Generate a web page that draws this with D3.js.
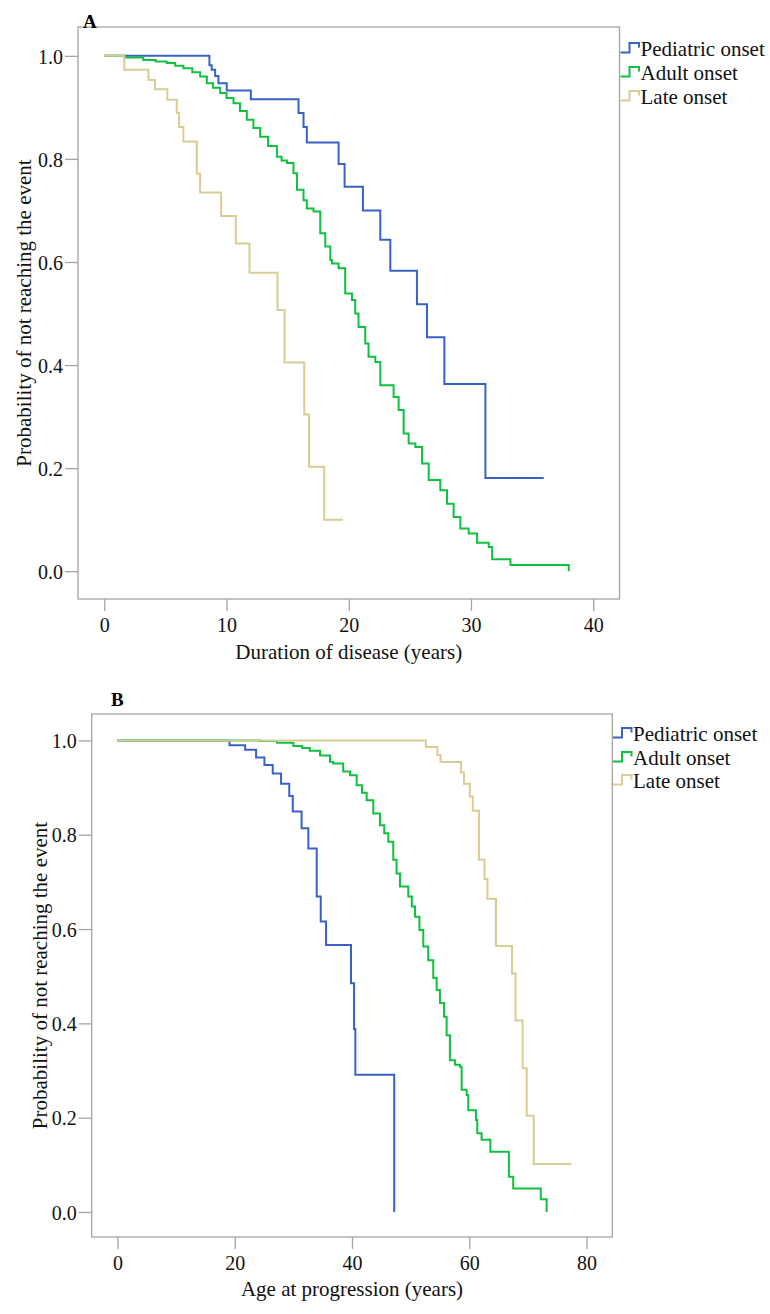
<!DOCTYPE html>
<html><head><meta charset="utf-8">
<script src="https://cdn.jsdelivr.net/npm/d3@7"></script>
<style>body{margin:0;background:#fff}</style>
</head><body>
<svg id="c" width="770" height="1314"></svg>
<script>
// ---------- data ----------
const seriesNames = ["Pediatric onset", "Adult onset", "Late onset"];
const yTicks = [0, 0.2, 0.4, 0.6, 0.8, 1.0];
const xTicksA = [0, 10, 20, 30, 40];
const xTicksB = [0, 20, 40, 60, 80];
const titleXA = "Duration of disease (years)";
const titleXB = "Age at progression (years)";
const titleY = "Probability of not reaching the event";

// Panel A: duration of disease
const aPedT = [0, 8.60, 8.79, 9.07, 9.34, 10.02, 11.99, 15.89, 16.30, 16.57, 19.17, 19.66, 21.16, 22.58, 23.40, 25.58, 26.40, 27.82, 31.18, 35.95];
const aPedS = [1, 0.982, 0.973, 0.961, 0.947, 0.933, 0.916, 0.889, 0.862, 0.832, 0.790, 0.746, 0.700, 0.643, 0.583, 0.518, 0.454, 0.363, 0.181, 0.181];
const aAduT = [0, 1.64, 3.19, 4.2, 5.11, 5.8, 6.47, 7.2, 7.84, 8.39, 8.9, 9.48, 10.0, 10.57, 11.1, 11.66, 12.2, 12.75, 13.4, 14.12, 14.5, 14.94, 15.48, 15.76, 16.3, 16.57, 17.12, 17.67, 18.08, 18.49, 18.62, 19.17, 19.71, 20.26, 20.53, 20.8, 21.35, 21.62, 22.17, 22.58, 23.67, 24.08, 24.49, 24.9, 25.45, 26.0, 26.54, 27.49, 28.04, 28.58, 29.13, 29.81, 30.5, 31.45, 31.73, 33.23, 38.0];
const aAduS = [1, 0.997, 0.992, 0.989, 0.986, 0.981, 0.976, 0.968, 0.960, 0.947, 0.938, 0.928, 0.918, 0.908, 0.893, 0.876, 0.860, 0.843, 0.825, 0.804, 0.797, 0.792, 0.772, 0.740, 0.720, 0.704, 0.698, 0.656, 0.630, 0.604, 0.597, 0.588, 0.539, 0.526, 0.500, 0.474, 0.442, 0.416, 0.406, 0.361, 0.338, 0.313, 0.267, 0.248, 0.241, 0.209, 0.177, 0.157, 0.131, 0.105, 0.083, 0.073, 0.055, 0.047, 0.023, 0.012, 0];
const aLatT = [0, 1.64, 3.61, 4.15, 5.16, 5.93, 6.12, 6.47, 7.57, 7.84, 9.56, 10.76, 11.88, 14.17, 14.75, 16.36, 16.75, 17.99, 19.52];
const aLatS = [1, 0.973, 0.953, 0.935, 0.915, 0.889, 0.862, 0.834, 0.771, 0.735, 0.689, 0.636, 0.579, 0.507, 0.405, 0.304, 0.2025, 0.100, 0.100];

// Panel B: age at progression
const bPedT = [0, 19.1, 21.77, 23.64, 25.06, 26.48, 27.9, 29.3, 29.9, 31.4, 32.55, 33.98, 34.67, 35.57, 39.83, 40.35, 40.57, 47.2];
const bPedS = [1, 0.990, 0.980, 0.964, 0.948, 0.930, 0.908, 0.882, 0.849, 0.814, 0.771, 0.669, 0.616, 0.566, 0.485, 0.388, 0.291, 0];
const bAduT = [0, 24.3, 27.2, 30.0, 31.5, 32.8, 34.55, 36.25, 36.8, 38.5, 39.66, 40.8, 41.7, 42.5, 43.63, 44.77, 45.5, 46.19, 47.04, 47.6, 48.18, 49.6, 50.2, 50.74, 51.5, 52.16, 53.0, 53.86, 54.44, 55.0, 55.7, 56.14, 56.7, 57.56, 58.4, 58.7, 59.55, 59.83, 61.14, 61.37, 62.1, 63.6, 66.76, 67.5, 72.2, 73.2];
const bAduS = [1, 0.999, 0.995, 0.988, 0.984, 0.978, 0.968, 0.955, 0.951, 0.934, 0.926, 0.905, 0.889, 0.873, 0.845, 0.820, 0.803, 0.785, 0.747, 0.718, 0.690, 0.669, 0.648, 0.626, 0.598, 0.563, 0.534, 0.496, 0.471, 0.443, 0.414, 0.375, 0.322, 0.312, 0.308, 0.259, 0.248, 0.216, 0.195, 0.167, 0.153, 0.128, 0.075, 0.050, 0.027, 0];
const bLatT = [0, 52.6, 54.55, 55.1, 58.6, 59.1, 60.1, 60.6, 61.65, 62.6, 63.1, 64.55, 67.3, 67.9, 69.1, 69.8, 71.0, 77.45];
const bLatS = [1, 0.986, 0.969, 0.954, 0.932, 0.908, 0.881, 0.851, 0.747, 0.706, 0.664, 0.564, 0.506, 0.406, 0.305, 0.204, 0.102, 0.102];

// ---------- styles / layout ----------
const colors = ["#3a62c6", "#10c040", "#d8cd94"];
const FONT = "'Liberation Serif','Times New Roman',serif";
const frameColor = "#a4a4a4";

const panels = [
  { letter: "A", letterX: 83, letterY: 28,
    left: 78, right: 619.5, top: 27, bottom: 599,
    xDomain: [-2.15, 42.15], yDomain: [-0.054, 1.056], xTicks: xTicksA,
    xTitle: titleXA, xTitleY: 659, yTitleX: 31,
    series: [[aPedT, aPedS], [aAduT, aAduS], [aLatT, aLatS]],
    legX: 620.5, legY: [56, 80, 104] },
  { letter: "B", letterX: 111, letterY: 706,
    left: 91.7, right: 612.3, top: 714, bottom: 1237,
    xDomain: [-4.4, 84.4], yDomain: [-0.053, 1.056], xTicks: xTicksB,
    xTitle: titleXB, xTitleY: 1296, yTitleX: 46.5,
    series: [[bPedT, bPedS], [bAduT, bAduS], [bLatT, bLatS]],
    legX: 613, legY: [741, 765, 788] }
];

const svg = d3.select("#c");

panels.forEach(p => {
  const g = svg.append("g");
  const x = d3.scaleLinear().domain(p.xDomain).range([p.left, p.right]);
  const y = d3.scaleLinear().domain(p.yDomain).range([p.bottom, p.top]);

  // frame
  g.append("rect").attr("x", p.left).attr("y", p.top)
    .attr("width", p.right - p.left).attr("height", p.bottom - p.top)
    .attr("fill", "none").attr("stroke", frameColor).attr("stroke-width", 1.3);

  // y axis
  const ya = g.append("g").attr("transform", `translate(${p.left},0)`)
    .call(d3.axisLeft(y).tickValues(yTicks).tickFormat(d3.format(".1f")).tickSize(13).tickPadding(2));
  ya.select(".domain").remove();
  ya.selectAll(".tick line").attr("stroke", frameColor).attr("stroke-width", 1.3);
  ya.selectAll(".tick text").attr("font-family", FONT).attr("font-size", 20).attr("fill", "#111").attr("dy", "0.36em");

  // x axis
  const xa = g.append("g").attr("transform", `translate(0,${p.bottom})`)
    .call(d3.axisBottom(x).tickValues(p.xTicks).tickFormat(d3.format("d")).tickSize(12).tickPadding(7));
  xa.select(".domain").remove();
  xa.selectAll(".tick line").attr("stroke", frameColor).attr("stroke-width", 1.3);
  xa.selectAll(".tick text").attr("font-family", FONT).attr("font-size", 20).attr("fill", "#111");

  // titles
  g.append("text").attr("x", (p.left + p.right) / 2).attr("y", p.xTitleY)
    .attr("text-anchor", "middle").attr("font-family", FONT).attr("font-size", 21).attr("fill", "#111")
    .text(p.xTitle);
  g.append("text").attr("transform", `translate(${p.yTitleX},${(p.top + p.bottom) / 2}) rotate(-90)`)
    .attr("text-anchor", "middle").attr("font-family", FONT).attr("font-size", 21).attr("fill", "#111")
    .text(titleY);
  g.append("text").attr("x", p.letterX).attr("y", p.letterY)
    .attr("font-family", FONT).attr("font-size", 19).attr("font-weight", "bold").attr("fill", "#000")
    .text(p.letter);

  // curves
  const line = d3.line().x(d => x(d[0])).y(d => y(d[1])).curve(d3.curveStepAfter);
  p.series.forEach((s, i) => {
    const pts = s[0].map((t, k) => [t, s[1][k]]);
    g.append("path").attr("d", line(pts)).attr("fill", "none")
      .attr("stroke", colors[i]).attr("stroke-width", 2).attr("stroke-linejoin", "miter");
  });

  // legend
  seriesNames.forEach((name, i) => {
    const by = p.legY[i];
    const ix = p.legX;
    const b = by - 3.5;
    g.append("path")
      .attr("d", `M${ix},${b}H${ix + 9}V${b - 9.5}H${ix + 18.5}V${b - 5}`)
      .attr("fill", "none").attr("stroke", colors[i]).attr("stroke-width", 2);
    g.append("text").attr("x", ix + 20).attr("y", by)
      .attr("font-family", FONT).attr("font-size", 21).attr("fill", "#111").text(name);
  });
});
</script>
</body></html>
